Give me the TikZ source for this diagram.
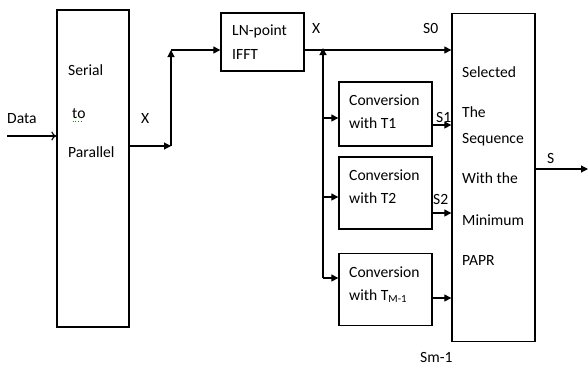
\documentclass[tikz,border=0pt]{standalone}
\usepackage{fontspec}
\setmainfont{Carlito}
\usetikzlibrary{arrows.meta}
\begin{document}
\begin{tikzpicture}[x=1pt,y=-1pt,
  box/.style={draw,line width=1.3pt,inner sep=0pt},
  lbl/.style={anchor=base west,inner sep=0pt,font=\fontsize{15.6}{18}\selectfont},
  conn/.style={line width=1.1pt,-{Triangle[length=7pt,width=7pt]}},
  wire/.style={line width=1.1pt}]
\useasboundingbox (0,0) rectangle (588,367);
% boxes
\node[box,minimum width=72pt,minimum height=317pt] (sp) at (93,168.5) {};
\node[box,minimum width=83pt,minimum height=58pt] (ifft) at (262.5,42) {};
\node[box,minimum width=83pt,minimum height=328pt] (sel) at (493.5,177.5) {};
\node[box,minimum width=93pt,minimum height=64pt] (c1) at (385.5,114) {};
\node[box,minimum width=93pt,minimum height=72pt] (c2) at (385.5,193) {};
\node[box,minimum width=93pt,minimum height=72pt] (c3) at (385.5,289.5) {};
% coordinates
\coordinate (din) at (7,136);
\coordinate (j1) at (171,146);
\coordinate (j1t) at (171,50);
\coordinate (j2) at (323,50);
\coordinate (j2b) at (323,278);
\coordinate (sout) at (588,169);
% labels
\node[lbl] (tdata) at (7,123) {Data};
\node[lbl] (tser) at (68,75) {Serial};
\node[lbl] (tto) at (72,118) {to};
\node[lbl] (tpar) at (68,157) {Parallel};
\node[lbl] (tx1) at (141,123) {X};
\node[lbl] (tln) at (232,35) {LN-point};
\node[lbl] (tif) at (232,59) {IFFT};
\node[lbl] (tx2) at (312,33) {X};
\node[lbl] (ts0) at (423,33) {S0};
\node[lbl] (tsel) at (462,77) {Selected};
\node[lbl] (tthe) at (462,117) {The};
\node[lbl] (tseq) at (462,143) {Sequence};
\node[lbl] (twith) at (462,183) {With the};
\node[lbl] (tmin) at (462,225) {Minimum};
\node[lbl] (tpapr) at (462,265) {PAPR};
\node[lbl] (tc1a) at (349,105) {Conversion};
\node[lbl] (tc1b) at (349,128) {with T1};
\node[lbl] (tc2a) at (349,180) {Conversion};
\node[lbl] (tc2b) at (349,203) {with T2};
\node[lbl] (tc3a) at (349,277) {Conversion};
\node[lbl] (tc3b) at (349,300) {with T\textsubscript{M-1}};
\node[lbl] (ts1) at (436,122) {S1};
\node[lbl] (ts2) at (433,204) {S2};
\node[lbl] (ts) at (547,163) {S};
\node[lbl] (tsm) at (420,362) {Sm-1};
% spell-check squiggle under "to"
\draw[green!60!black,line width=0.9pt,dotted] (72.5,121.5) -- (84,121.5);
% connectors
\draw[line width=1.1pt,-{To[length=5pt,width=9pt]}] (din) -- (din -| sp.west);
\draw[conn] (j1 -| sp.east) -- (j1);
\draw[conn] (j1) -- (j1t);
\draw[conn] (j1t) -- (j1t -| ifft.west);
\draw[conn] (j2 -| ifft.east) -- (j2 -| sel.west);
\draw[conn] (j2b) -- ([yshift=2pt]j2);
\draw[conn] (323,118) -- (323,118 -| c1.west);
\draw[conn] (323,197) -- (323,197 -| c2.west);
\draw[conn] (j2b) -- (j2b -| c3.west);
\draw[conn] (c1.east |- 0,125) -- (sel.west |- 0,125);
\draw[conn] (c2.east |- 0,213) -- (sel.west |- 0,213);
\draw[conn] (c3.east |- 0,298) -- (sel.west |- 0,298);
\draw[conn] (sel.east |- sout) -- (sout);
\end{tikzpicture}
\end{document}
